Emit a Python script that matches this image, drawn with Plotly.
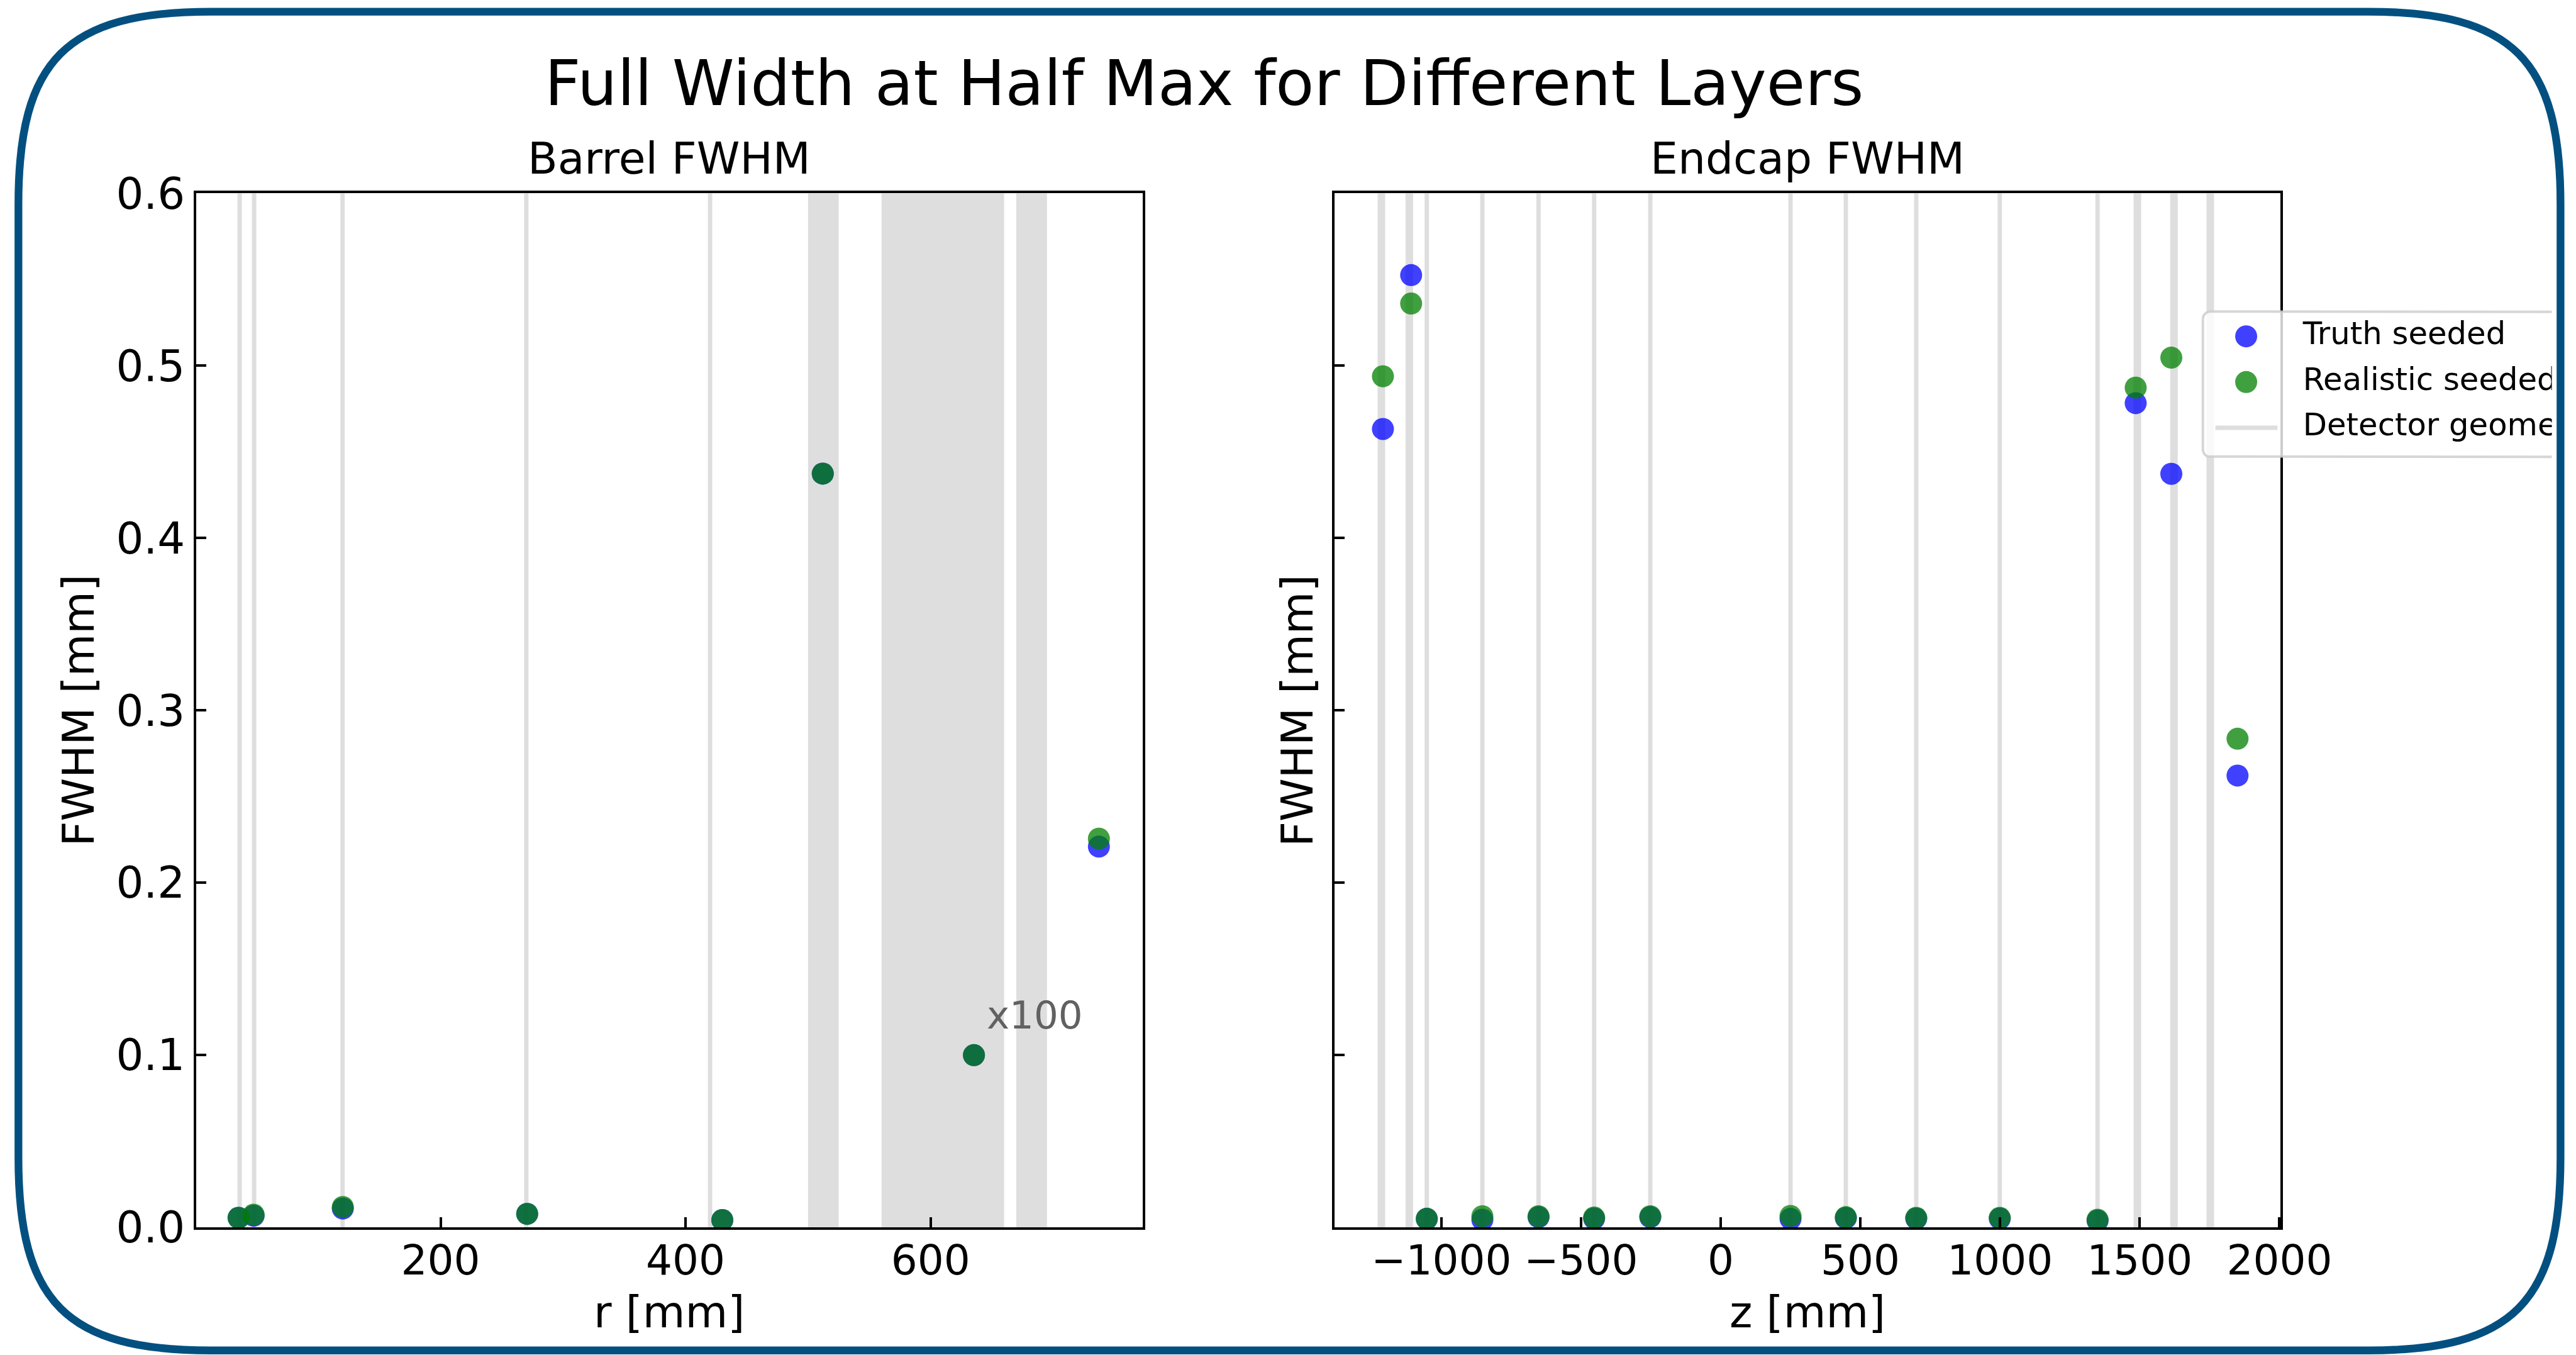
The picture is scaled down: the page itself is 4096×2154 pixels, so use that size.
import numpy as np
import plotly.graph_objects as go

# ---------------- data ----------------
# Barrel layers: radius [mm] and FWHM [mm]
barrel_r = [35.1, 47.4, 120.2, 270.7, 430.0, 512.0, 635.4, 737.4]
barrel_truth = [0.0056, 0.0068, 0.0110, 0.0079, 0.0043, 0.4374, 0.00100, 0.2210]
barrel_real = [0.0056, 0.0074, 0.0119, 0.0079, 0.0043, 0.4374, 0.00100, 0.2256]
barrel_scale = [1, 1, 1, 1, 1, 1, 100, 1]          # the 635 mm layer is shown x100
barrel_lines = [36.0, 47.8, 120.0, 270.0, 420.0]
barrel_bands = [(500, 525), (560, 660), (670, 695)]

# Endcap layers: z [mm] and FWHM [mm]
endcap_z = [-1209, -1108, -1052, -853, -652, -453, -252, 250, 448, 700, 999, 1349, 1485.5, 1613, 1850]
endcap_truth = [0.4633, 0.5526, 0.0050, 0.0045, 0.0060, 0.0052, 0.0060, 0.0050, 0.0055,
                0.0052, 0.0052, 0.0040, 0.4783, 0.4373, 0.2622]
endcap_real = [0.4939, 0.5361, 0.0051, 0.0065, 0.0065, 0.0058, 0.0065, 0.0067, 0.0060,
               0.0056, 0.0056, 0.0045, 0.4873, 0.5047, 0.2836]
endcap_lines = [-1052, -853, -652, -453, -252, 250, 448, 700, 999, 1349]
endcap_bands = [(-1228, -1201), (-1128, -1101), (1478, 1505), (1609, 1636), (1739, 1766)]

legend_labels = ["Truth seeded", "Realistic seeded", "Detector geometry"]

# ---------------- geometry helpers ----------------
W, H = 4096, 2154
S = 0.987
FONT = "DejaVu Sans"
BLUE = "rgba(0,0,255,0.75)"
GREEN = "rgba(0,128,0,0.75)"
GEOM = "#dedede"
FRAME = "#035080"


def fx(x):
    return x * S / W


def fy(y):
    return 1 - y * S / H


LW = 4.0
half = LW / 2 / W
halfy = LW / 2 / H
dom_y = [fy(1979) + halfy, fy(309.5) - halfy]
dom_x1 = [fx(314) + half, fx(1843) - half]
dom_x2 = [fx(2148) + half, fx(3676) - half]

fig = go.Figure()

# ---------------- scatter points ----------------
b_truth = [v * k for v, k in zip(barrel_truth, barrel_scale)]
b_real = [v * k for v, k in zip(barrel_real, barrel_scale)]
MS = 35
for xs, ys, col, ax in [
    (barrel_r, b_truth, BLUE, ("x", "y")),
    (barrel_r, b_real, GREEN, ("x", "y")),
    (endcap_z, endcap_truth, BLUE, ("x2", "y2")),
    (endcap_z, endcap_real, GREEN, ("x2", "y2")),
]:
    fig.add_trace(go.Scatter(x=xs, y=ys, mode="markers", xaxis=ax[0], yaxis=ax[1],
                             marker=dict(size=MS, color=col, line=dict(width=0)),
                             showlegend=False, hoverinfo="skip"))

# ---------------- detector geometry ----------------
for xr, lines, bands in [("x", barrel_lines, barrel_bands), ("x2", endcap_lines, endcap_bands)]:
    yr = "y domain" if xr == "x" else "y2 domain"
    for xv in lines:
        fig.add_shape(type="line", xref=xr, yref=yr, x0=xv, x1=xv, y0=0, y1=1,
                      line=dict(color=GEOM, width=7 * S), layer="below")
    for lo, hi in bands:
        fig.add_shape(type="rect", xref=xr, yref=yr, x0=lo, x1=hi, y0=0, y1=1,
                      fillcolor=GEOM, line=dict(width=0), layer="below")

# ---------------- axes ----------------
axis_common = dict(showline=True, linecolor="black", linewidth=LW, mirror=True,
                   ticks="inside", ticklen=16, tickwidth=LW, tickcolor="black",
                   showgrid=False, zeroline=False, automargin=False)
yfont = dict(family=FONT, size=69, color="black")
xfont = dict(family=FONT, size=66, color="black")

fig.update_layout(
    xaxis=dict(domain=dom_x1, range=[0.5, 773.2], dtick=200, anchor="y", tickfont=xfont,
               ticklabelstandoff=-8, **axis_common),
    yaxis=dict(domain=dom_y, range=[0, 0.6], dtick=0.1, tickformat=".1f", anchor="x",
               tickfont=yfont, **axis_common),
    xaxis2=dict(domain=dom_x2, range=[-1382, 2004], dtick=500, anchor="y2", tickfont=xfont,
                ticklabelstandoff=-8, **axis_common),
    yaxis2=dict(domain=dom_y, range=[0, 0.6], dtick=0.1, anchor="x2", showticklabels=False,
                tickfont=yfont, **axis_common),
)

# ---------------- legend (drawn in its own clipped subplot) ----------------
LX0, LX1 = 3440 * S, 4111 * S
LY0, LY1 = 470 * S, 770 * S
fig.update_layout(
    xaxis3=dict(domain=[LX0 / W, LX1 / W], range=[LX0, LX1], visible=False, anchor="y3",
                automargin=False),
    yaxis3=dict(domain=[1 - LY1 / H, 1 - LY0 / H], range=[LY1, LY0], visible=False, anchor="x3",
                automargin=False),
)
bx0, bx1 = 3548.8 * S, 4300 * S
by0, by1 = 501.7 * S, 736.0 * S
rr = 12
ang = np.linspace(0, np.pi / 2, 10)
px_, py_ = [], []
for cx, cy, a0 in [(bx0 + rr, by0 + rr, np.pi), (bx1 - rr, by0 + rr, 1.5 * np.pi),
                   (bx1 - rr, by1 - rr, 0.0), (bx0 + rr, by1 - rr, 0.5 * np.pi)]:
    px_ += list(cx + rr * np.cos(a0 + ang))
    py_ += list(cy + rr * np.sin(a0 + ang))
px_.append(px_[0])
py_.append(py_[0])
fig.add_trace(go.Scatter(x=px_, y=py_, mode="lines", fill="toself", xaxis="x3", yaxis="y3",
                         fillcolor="rgba(255,255,255,0.8)",
                         line=dict(color="rgba(204,204,204,0.8)", width=4),
                         showlegend=False, hoverinfo="skip"))
row_y = [541.7 * S, 615.3 * S, 689.0 * S]
mx = 3618.6 * S
fig.add_trace(go.Scatter(x=[mx], y=[row_y[0]], mode="markers", xaxis="x3", yaxis="y3",
                         marker=dict(size=MS, color=BLUE), showlegend=False, hoverinfo="skip"))
fig.add_trace(go.Scatter(x=[mx], y=[row_y[1]], mode="markers", xaxis="x3", yaxis="y3",
                         marker=dict(size=MS, color=GREEN), showlegend=False, hoverinfo="skip"))
fig.add_trace(go.Scatter(x=[3569 * S, 3669 * S], y=[row_y[2], row_y[2]], mode="lines",
                         xaxis="x3", yaxis="y3", line=dict(color=GEOM, width=7 * S),
                         showlegend=False, hoverinfo="skip"))
fig.add_trace(go.Scatter(x=[3710 * S] * 3, y=row_y, mode="text", text=legend_labels,
                         textposition="middle right", xaxis="x3", yaxis="y3",
                         textfont=dict(family=FONT, size=49.7, color="black"),
                         cliponaxis=True, showlegend=False, hoverinfo="skip"))

# ---------------- texts ----------------
def text(x, y, s, size, color="black", anchor="center", angle=0):
    fig.add_annotation(x=fx(x), y=fy(y), xref="paper", yref="paper", text=s, showarrow=False,
                       xanchor=anchor, yanchor="middle", textangle=angle,
                       font=dict(family=FONT, size=size, color=color))


text(1940, 169 - 0.346 * 101, "Full Width at Half Max for Different Layers", 100)
text(1078.5, 278.7 - 0.346 * 70, "Barrel FWHM", 69.5)
text(2912, 278.7 - 0.346 * 70, "Endcap FWHM", 69.5)
text(1078.5, 2137.5 - 0.346 * 70, "r [mm]", 69.5)
text(2912, 2137.5 - 0.346 * 70, "z [mm]", 69.5)
text(126, 1144, "FWHM [mm]", 69.5, angle=-90)
text(2089, 1144, "FWHM [mm]", 69.5, angle=-90)
text(1588, 1656.7 - 0.346 * 62, "x100", 61, color="#616161", anchor="left")

# ---------------- rounded frame ----------------
L, R, T, B = 29.7, 4125, 18.8, 2175
rad, k = 310, 0.75
c = rad * (1 - k)


def P(x, y):
    return f"{fx(x):.6f},{fy(y):.6f}"


path = (f"M{P(L, T + rad)} C{P(L, T + c)} {P(L + c, T)} {P(L + rad, T)} "
        f"L{P(R - rad, T)} C{P(R - c, T)} {P(R, T + c)} {P(R, T + rad)} "
        f"L{P(R, B - rad)} C{P(R, B - c)} {P(R - c, B)} {P(R - rad, B)} "
        f"L{P(L + rad, B)} C{P(L + c, B)} {P(L, B - c)} {P(L, B - rad)} Z")
fig.add_shape(type="path", path=path, xref="paper", yref="paper",
              line=dict(color=FRAME, width=12.5 * S), fillcolor="rgba(0,0,0,0)", layer="above")

fig.update_layout(width=W, height=H, autosize=False,
                  margin=dict(l=0, r=0, t=0, b=0, pad=0, autoexpand=False),
                  template="none",
                  paper_bgcolor="white", plot_bgcolor="rgba(0,0,0,0)", showlegend=False,
                  font=dict(family=FONT))

fig.write_html("out.html", config={"displayModeBar": False})
